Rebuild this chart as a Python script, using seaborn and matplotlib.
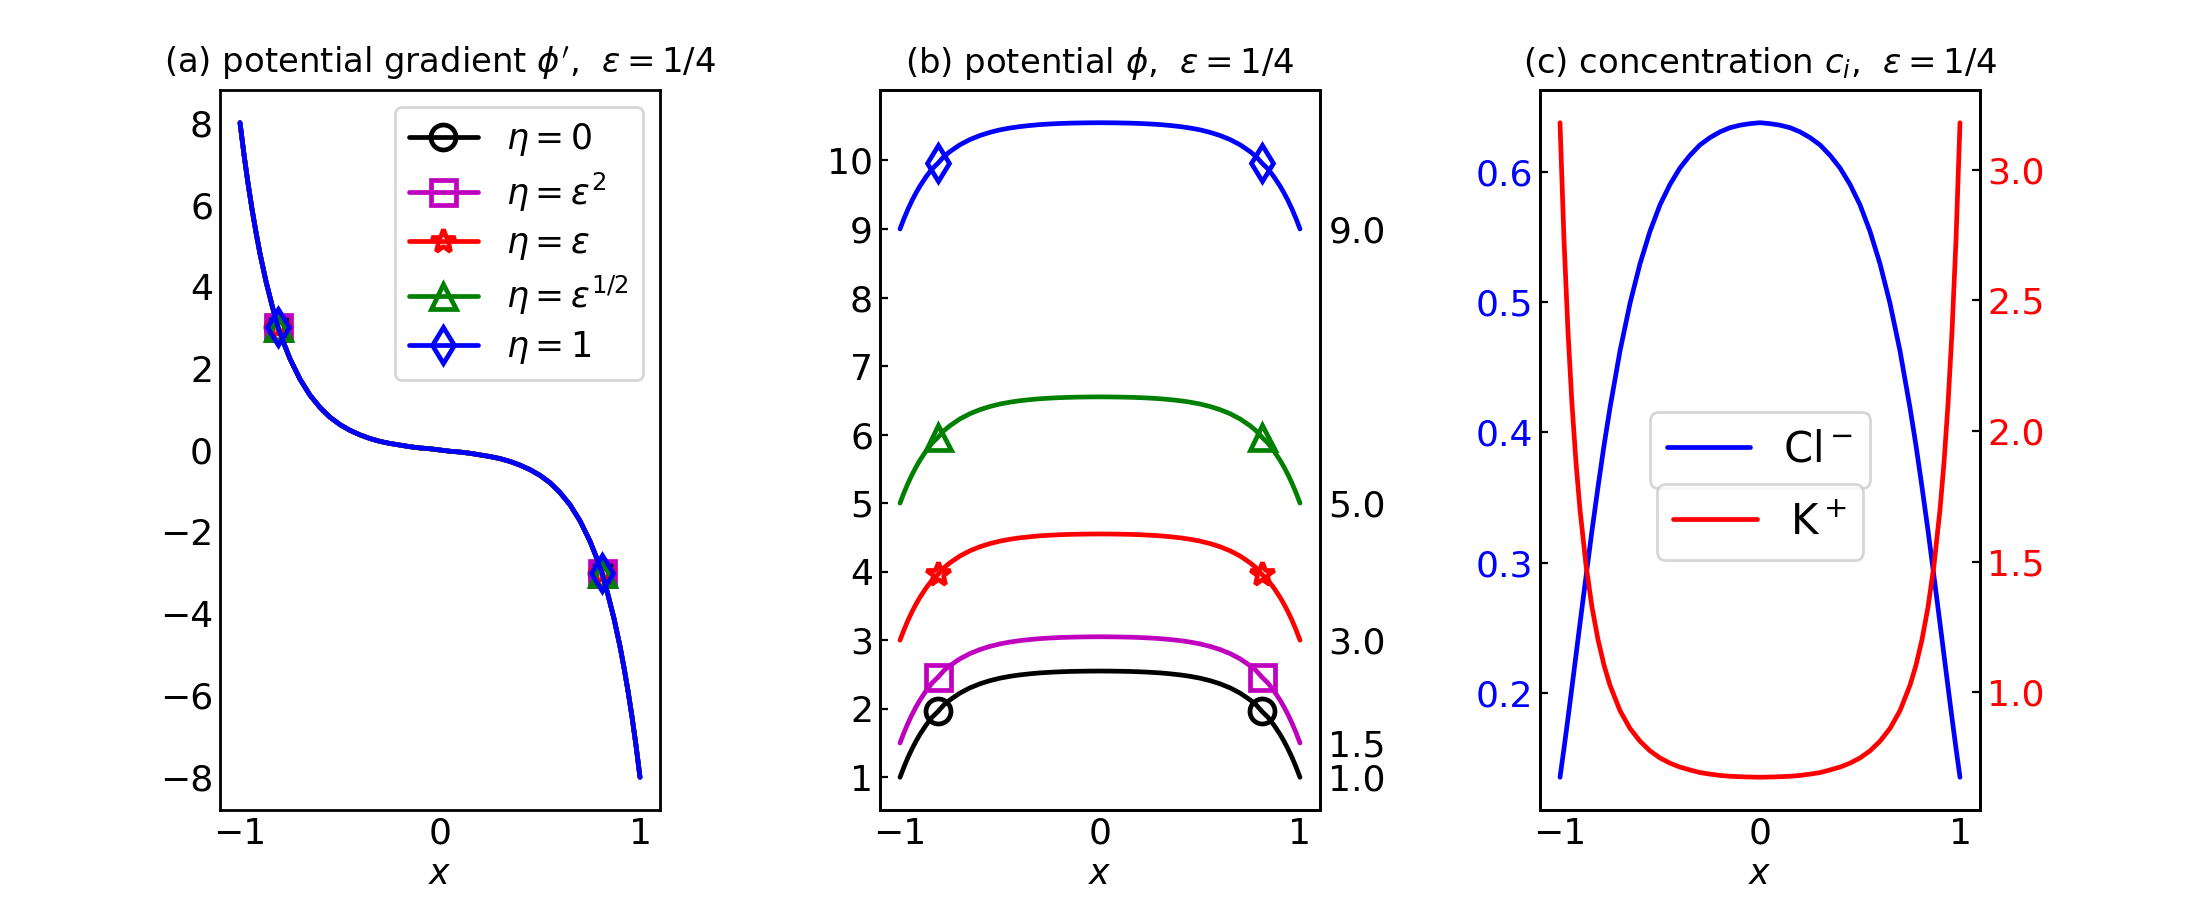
import matplotlib
matplotlib.use("Agg")
import matplotlib.pyplot as plt
import seaborn as sns

# x grid, denser near the walls where the profiles are steep
x = [-1.0, -0.98, -0.96, -0.94, -0.92, -0.9, -0.87, -0.84, -0.81, -0.78, -0.75,
     -0.7, -0.65, -0.6, -0.55, -0.5, -0.45, -0.4, -0.35, -0.3, -0.25,
     -0.2, -0.15, -0.1, -0.05, 0.0,
     0.05, 0.1, 0.15, 0.2, 0.25, 0.3, 0.35, 0.4, 0.45, 0.5,
     0.55, 0.6, 0.65, 0.7, 0.75, 0.78, 0.81, 0.84, 0.87, 0.9,
     0.92, 0.94, 0.96, 0.98, 1.0]
mark_idx = [8, 42]  # markers sit at x = -0.81 and 0.81

# (a) potential gradient, the same curve for every eta
phi_grad = [8.00, 7.22, 6.52, 5.89, 5.32, 4.80, 4.12, 3.54, 3.00, 2.60, 2.23,
            1.73, 1.34, 1.04, 0.80, 0.62, 0.48, 0.37, 0.28, 0.21, 0.16,
            0.12, 0.08, 0.05, 0.03, 0.00,
            -0.03, -0.05, -0.08, -0.12, -0.16, -0.21, -0.28, -0.37, -0.48, -0.62,
            -0.80, -1.04, -1.34, -1.73, -2.23, -2.60, -3.00, -3.54, -4.12, -4.80,
            -5.32, -5.89, -6.52, -7.22, -8.00]

# (b) potential for each eta
phi_eta0 = [1.000, 1.152, 1.290, 1.414, 1.526, 1.627, 1.760, 1.875, 1.960, 2.058, 2.130,
            2.229, 2.305, 2.364, 2.410, 2.446, 2.473, 2.494, 2.510, 2.523, 2.532,
            2.539, 2.544, 2.547, 2.549, 2.550,
            2.549, 2.547, 2.544, 2.539, 2.532, 2.523, 2.510, 2.494, 2.473, 2.446,
            2.410, 2.364, 2.305, 2.229, 2.130, 2.058, 1.960, 1.875, 1.760, 1.627,
            1.526, 1.414, 1.290, 1.152, 1.000]
phi_eps2 = [1.500, 1.652, 1.790, 1.914, 2.026, 2.127, 2.260, 2.375, 2.460, 2.558, 2.630,
            2.729, 2.805, 2.864, 2.910, 2.946, 2.973, 2.994, 3.010, 3.023, 3.032,
            3.039, 3.044, 3.047, 3.049, 3.050,
            3.049, 3.047, 3.044, 3.039, 3.032, 3.023, 3.010, 2.994, 2.973, 2.946,
            2.910, 2.864, 2.805, 2.729, 2.630, 2.558, 2.460, 2.375, 2.260, 2.127,
            2.026, 1.914, 1.790, 1.652, 1.500]
phi_eps = [3.000, 3.152, 3.290, 3.414, 3.526, 3.627, 3.760, 3.875, 3.960, 4.058, 4.130,
           4.229, 4.305, 4.364, 4.410, 4.446, 4.473, 4.494, 4.510, 4.523, 4.532,
           4.539, 4.544, 4.547, 4.549, 4.550,
           4.549, 4.547, 4.544, 4.539, 4.532, 4.523, 4.510, 4.494, 4.473, 4.446,
           4.410, 4.364, 4.305, 4.229, 4.130, 4.058, 3.960, 3.875, 3.760, 3.627,
           3.526, 3.414, 3.290, 3.152, 3.000]
phi_sqrt = [5.000, 5.152, 5.290, 5.414, 5.526, 5.627, 5.760, 5.875, 5.960, 6.058, 6.130,
            6.229, 6.305, 6.364, 6.410, 6.446, 6.473, 6.494, 6.510, 6.523, 6.532,
            6.539, 6.544, 6.547, 6.549, 6.550,
            6.549, 6.547, 6.544, 6.539, 6.532, 6.523, 6.510, 6.494, 6.473, 6.446,
            6.410, 6.364, 6.305, 6.229, 6.130, 6.058, 5.960, 5.875, 5.760, 5.627,
            5.526, 5.414, 5.290, 5.152, 5.000]
phi_one = [9.000, 9.152, 9.290, 9.414, 9.526, 9.627, 9.760, 9.875, 9.960, 10.058, 10.130,
           10.229, 10.305, 10.364, 10.410, 10.446, 10.473, 10.494, 10.510, 10.523, 10.532,
           10.539, 10.544, 10.547, 10.549, 10.550,
           10.549, 10.547, 10.544, 10.539, 10.532, 10.523, 10.510, 10.494, 10.473, 10.446,
           10.410, 10.364, 10.305, 10.229, 10.130, 10.058, 9.960, 9.875, 9.760, 9.627,
           9.526, 9.414, 9.290, 9.152, 9.000]
wall_ticks = [1.0, 1.5, 3.0, 5.0, 9.0]

# (c) concentrations
c_cl = [0.1353, 0.1575, 0.1808, 0.2047, 0.2290, 0.2533, 0.2893, 0.3246, 0.3580, 0.3898, 0.4188,
        0.4624, 0.4989, 0.5293, 0.5542, 0.5745, 0.5902, 0.6028, 0.6125, 0.6205, 0.6261,
        0.6305, 0.6337, 0.6356, 0.6368, 0.6375,
        0.6368, 0.6356, 0.6337, 0.6305, 0.6261, 0.6205, 0.6125, 0.6028, 0.5902, 0.5745,
        0.5542, 0.5293, 0.4989, 0.4624, 0.4188, 0.3898, 0.3580, 0.3246, 0.2893, 0.2533,
        0.2290, 0.2047, 0.1808, 0.1575, 0.1353]
c_k = [3.180, 2.731, 2.380, 2.102, 1.879, 1.699, 1.487, 1.326, 1.202, 1.104, 1.027,
       0.930, 0.862, 0.813, 0.776, 0.749, 0.729, 0.714, 0.703, 0.693, 0.687,
       0.682, 0.679, 0.677, 0.676, 0.675,
       0.676, 0.677, 0.679, 0.682, 0.687, 0.693, 0.703, 0.714, 0.729, 0.749,
       0.776, 0.813, 0.862, 0.930, 1.027, 1.104, 1.202, 1.326, 1.487, 1.699,
       1.879, 2.102, 2.380, 2.731, 3.180]

labels = [r"$\eta=0$", r"$\eta=\varepsilon^2$", r"$\eta=\varepsilon$",
          r"$\eta=\varepsilon^{1/2}$", r"$\eta=1$"]
colors = ["k", "m", "r", "g", "b"]
markers = ["o", "s", "*", "^", "d"]
phi_curves = [phi_eta0, phi_eps2, phi_eps, phi_sqrt, phi_one]

sns.set_style("white")
plt.rcParams.update({
    "font.family": ["DejaVu Sans"],
    "font.size": 12.5,
    "axes.edgecolor": "black",
    "axes.linewidth": 1.0,
    "xtick.direction": "in",
    "ytick.direction": "in",
    "xtick.color": "black",
    "ytick.color": "black",
    "xtick.major.size": 2.8,
    "ytick.major.size": 2.8,
    "xtick.major.pad": 2.5,
    "ytick.major.pad": 2.5,
    "xtick.labelsize": 13,
    "ytick.labelsize": 13,
    "text.color": "black",
    "axes.labelcolor": "black",
    "mathtext.fontset": "dejavusans",
})

fig, axes = plt.subplots(1, 3, figsize=(11, 4.5), dpi=200)
plt.subplots_adjust(left=0.1, right=0.9, bottom=0.1, top=0.9, wspace=0.5)

lw = 1.7
title_size = 12.2
line_kw = dict(sort=False, estimator=None, linewidth=lw, markevery=mark_idx,
               markersize=9, mfc="none", mew=lw)

# (a) gradient
ax = axes[0]
for lab, col, mk in zip(labels, colors, markers):
    sns.lineplot(x=x, y=phi_grad, ax=ax, color=col, marker=mk, mec=col,
                 label=lab, **line_kw)
ax.set_xticks([-1, 0, 1])
ax.set_xlabel(r"$x$", labelpad=2)
ax.set_title(r"(a) potential gradient $\phi'$,  $\varepsilon=1/4$", fontsize=title_size)
ax.legend(loc="upper right", fontsize=12.5, labelspacing=0.35)

# (b) potential
ax = axes[1]
for lab, col, mk, yv in zip(labels, colors, markers, phi_curves):
    sns.lineplot(x=x, y=yv, ax=ax, color=col, marker=mk, mec=col, **line_kw)
ax.set_xticks([-1, 0, 1])
ax.set_yticks(range(1, 11))
ax.set_xlabel(r"$x$", labelpad=2)
ax.set_title(r"(b) potential $\phi$,  $\varepsilon=1/4$", fontsize=title_size)
if ax.get_legend() is not None:
    ax.get_legend().remove()
axr = ax.twinx()
axr.set_ylim(ax.get_ylim())
axr.set_yticks(wall_ticks)
axr.set_yticklabels([f"{v:.1f}" for v in wall_ticks])
axr.tick_params(axis="y", length=0, pad=3)

# (c) concentrations
ax = axes[2]
sns.lineplot(x=x, y=c_cl, ax=ax, color="b", sort=False, estimator=None,
             linewidth=lw, label=r"Cl$^-$")
ax.set_xticks([-1, 0, 1])
ax.set_xlabel(r"$x$", labelpad=2)
ax.tick_params(axis="y", labelcolor="b")
ax.set_title(r"(c) concentration $c_i$,  $\varepsilon=1/4$", fontsize=title_size)
axk = ax.twinx()
sns.lineplot(x=x, y=c_k, ax=axk, color="r", sort=False, estimator=None,
             linewidth=lw, label=r"K$^+$")
axk.tick_params(axis="y", labelcolor="r")
axk.set_yticks([1.0, 1.5, 2.0, 2.5, 3.0])
ax.legend(loc="center", bbox_to_anchor=(0.5, 0.5), fontsize=15)
axk.legend(loc="center", bbox_to_anchor=(0.5, 0.4), fontsize=15)

fig.savefig("out.png", dpi=200)
